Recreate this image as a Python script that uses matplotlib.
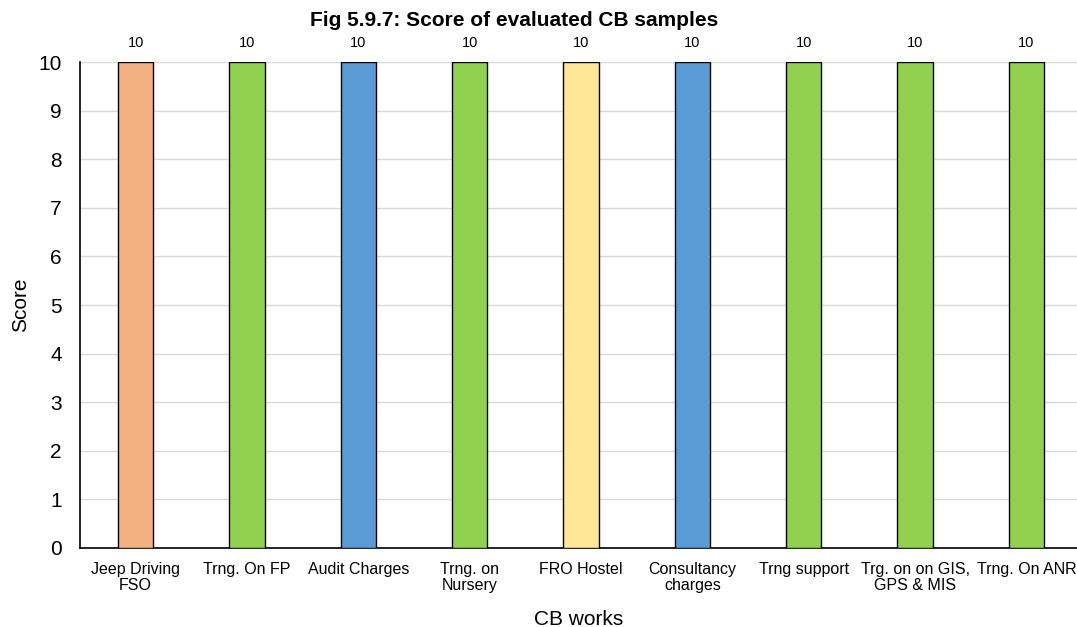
import matplotlib
matplotlib.use('Agg')
import matplotlib.pyplot as plt

plt.rcParams['font.family'] = ['Liberation Sans', 'DejaVu Sans']

works = ['Jeep Driving\nFSO', 'Trng. On FP', 'Audit Charges', 'Trng. on\nNursery',
         'FRO Hostel', 'Consultancy\ncharges', 'Trng support',
         'Trg. on on GIS,\nGPS & MIS', 'Trng. On ANR']
scores = [10, 10, 10, 10, 10, 10, 10, 10, 10]
colors = ['#F4B183', '#92D050', '#5B9BD5', '#92D050', '#FFE699',
          '#5B9BD5', '#92D050', '#92D050', '#92D050']

fig = plt.figure(figsize=(10.77, 6.27), dpi=100)
ax = fig.add_axes([0.0743, 0.126, 0.9257, 0.775])

xs = range(len(works))
bars = ax.bar(xs, scores, width=0.315, color=colors, edgecolor='black', linewidth=1, zorder=3)
for b, v in zip(bars, scores):
    ax.text(b.get_x() + b.get_width()/2, v + 0.25, str(v), ha='center', va='bottom', fontsize=10.5)

ax.set_xlim(-0.5, 8.455)
ax.set_ylim(0, 10)
ax.set_yticks(range(0, 11))
ax.set_xticks(list(xs))
ax.set_xticklabels(works, fontsize=11.5, linespacing=1.1)
ax.tick_params(axis='y', labelsize=15, length=0, pad=13)
ax.tick_params(axis='x', length=0, pad=10)
ax.yaxis.grid(True, color='#D9D9D9', linewidth=1, zorder=0)
for s in ['top', 'right']:
    ax.spines[s].set_visible(False)
ax.spines['left'].set_linewidth(1.2)
ax.spines['bottom'].set_linewidth(1.2)

ax.set_xlabel('CB works', fontsize=15, labelpad=12)
ax.set_ylabel('Score', fontsize=15, labelpad=6)
fig.text(514/1077, 0.968, 'Fig 5.9.7: Score of evaluated CB samples', ha='center', va='center',
         fontsize=15, fontweight='bold')

fig.savefig('out.png', dpi=100)
